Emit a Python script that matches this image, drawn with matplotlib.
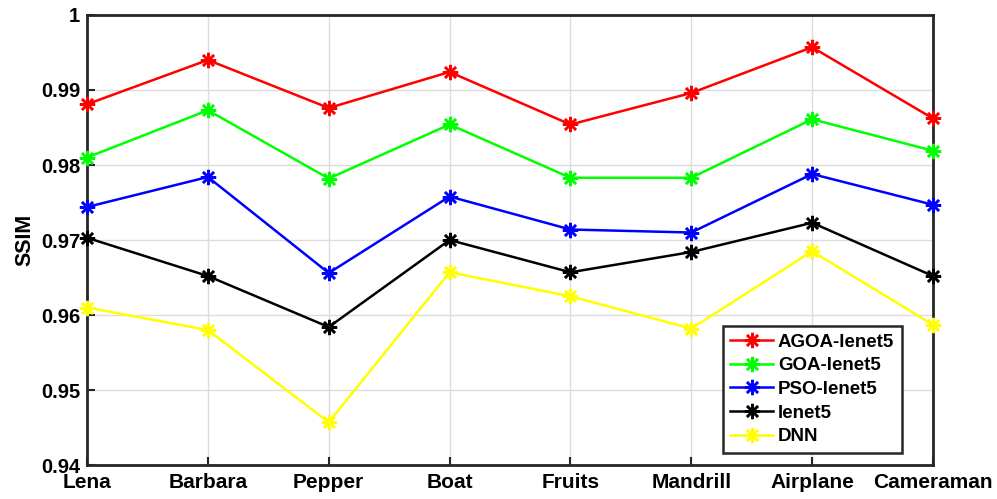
import matplotlib.pyplot as plt
import numpy as np

plt.rcParams['font.family'] = ['Liberation Sans', 'DejaVu Sans']
plt.rcParams['font.weight'] = 'bold'

images = ['Lena', 'Barbara', 'Pepper', 'Boat', 'Fruits', 'Mandrill', 'Airplane', 'Cameraman']

agoa = [0.9881, 0.9940, 0.9876, 0.9924, 0.9854, 0.9896, 0.9957, 0.9862]
goa = [0.9810, 0.9873, 0.9782, 0.9854, 0.9783, 0.9783, 0.9861, 0.9819]
pso = [0.9744, 0.9784, 0.9656, 0.9758, 0.9714, 0.9710, 0.9788, 0.9747]
lenet = [0.9703, 0.9652, 0.9584, 0.9700, 0.9657, 0.9684, 0.9723, 0.9652]
dnn = [0.9610, 0.9580, 0.9457, 0.9657, 0.9625, 0.9582, 0.9685, 0.9587]

series = [(agoa, 'AGOA-lenet5', '#ff0000'),
          (goa, 'GOA-lenet5', '#00ff00'),
          (pso, 'PSO-lenet5', '#0000ff'),
          (lenet, 'lenet5', '#000000'),
          (dnn, 'DNN', '#ffff00')]

fig = plt.figure(figsize=(9.97, 4.99), dpi=100)
ax = fig.add_axes([0.0873, 0.068, 0.8485, 0.902])

x = np.arange(len(images))
for vals, name, col in series:
    ax.plot(x, vals, color=col, lw=1.8, marker=(8, 2, 0), markersize=11,
            markeredgewidth=1.8, label=name, clip_on=False, zorder=3)

ax.set_xlim(0, len(images) - 1)
ax.set_ylim(0.94, 1.0)
ax.set_yticks([0.94, 0.95, 0.96, 0.97, 0.98, 0.99, 1.0])
ax.set_yticklabels(['0.94', '0.95', '0.96', '0.97', '0.98', '0.99', '1'])
ax.set_xticks(x)
ax.set_xticklabels(images)
ax.set_ylabel('SSIM', fontsize=15.5, fontweight='bold', labelpad=4)
ax.grid(True, color='#dcdcdc', lw=1.0)
ax.set_axisbelow(True)
ax.tick_params(direction='in', length=6, width=1.5, color='#262626')
ax.tick_params(axis='x', pad=6, labelsize=15)
ax.tick_params(axis='y', pad=5, labelsize=14.5)
for s in ax.spines.values():
    s.set_linewidth(2)
    s.set_color('#262626')

leg = ax.legend(loc='lower right', bbox_to_anchor=(0.963, 0.027), borderaxespad=0,
                fontsize=13.5, frameon=True, fancybox=False, handlelength=2.3,
                handletextpad=0.25, labelspacing=0.35, borderpad=0.4)
leg.get_frame().set_edgecolor('#262626')
leg.get_frame().set_linewidth(1.8)
leg.get_frame().set_alpha(1)

fig.savefig('out.png', dpi=100)
